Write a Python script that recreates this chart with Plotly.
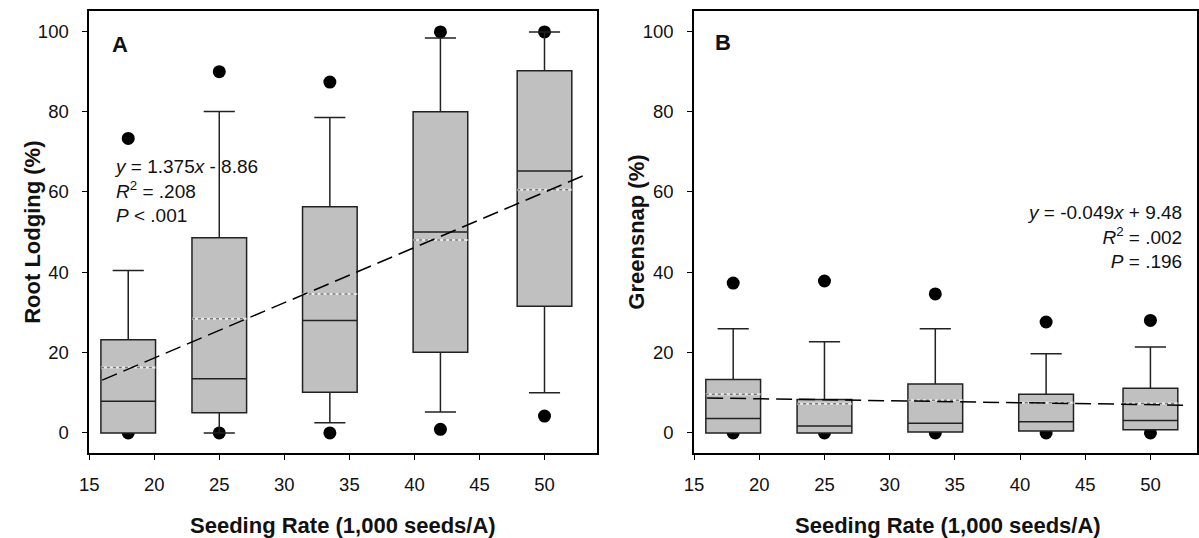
import plotly.graph_objects as go

# ---------------- data ----------------
positions = [18, 25, 33.5, 42, 50]
box_width = 4.2

# Panel A: Root lodging (%)
A_q1 = [0, 5.0, 10.1, 20.1, 31.5]
A_median = [7.9, 13.5, 28.0, 50.0, 65.2]
A_q3 = [23.2, 48.6, 56.3, 79.9, 90.1]
A_lower = [0, 0, 2.5, 5.2, 10.0]
A_upper = [40.4, 80.0, 78.5, 98.3, 99.8]
A_mean = [16.3, 28.4, 34.6, 48.0, 60.5]
A_out_high = [73.3, 89.9, 87.3, 99.8, 99.8]
A_out_low = [0, 0, 0, 0.9, 4.2]
A_slope, A_intercept = 1.375, -8.86
A_fit_x = [16, 53.1]

# Panel B: Greensnap (%)
B_q1 = [0, 0, 0.2, 0.5, 0.8]
B_median = [3.6, 1.7, 2.4, 2.8, 3.1]
B_q3 = [13.3, 8.3, 12.2, 9.6, 11.1]
B_lower = [0, 0, 0.2, 0.5, 0.8]
B_upper = [25.9, 22.7, 25.9, 19.7, 21.4]
B_mean = [9.6, 7.25, 8.1, 7.5, 7.3]
B_out_high = [37.3, 37.8, 34.6, 27.6, 28.0]
B_out_low = [0, 0, 0, 0, 0]
B_slope, B_intercept = -0.049, 9.48
B_fit_x = [16, 53.0]

x_ticks = [15, 20, 25, 30, 35, 40, 45, 50]
y_ticks = [0, 20, 40, 60, 80, 100]

FONT = "Liberation Sans, Arial, sans-serif"
W, H = 1199, 538

fig = go.Figure()


def add_panel(xb, yb, xo, yo, q1, med, q3, lo, hi, mean, out_hi, out_lo, slope, icpt, fit_x):
    # outlier dots on the base axes (drawn beneath the boxes)
    fig.add_trace(go.Scatter(
        x=positions + positions, y=out_hi + out_lo, mode="markers",
        marker=dict(color="black", size=13), xaxis=xb, yaxis=yb,
        showlegend=False, hoverinfo="skip"))
    # boxes on overlay axes
    fig.add_trace(go.Box(
        x=positions, q1=q1, median=med, q3=q3, lowerfence=lo, upperfence=hi,
        width=box_width, whiskerwidth=0.57, boxpoints=False,
        fillcolor="rgb(192,192,192)", line=dict(color="#222222", width=1.5),
        xaxis=xo, yaxis=yo, showlegend=False))
    # mean lines (dotted)
    mx, my = [], []
    for p, m in zip(positions, mean):
        mx += [p - box_width / 2, p + box_width / 2, None]
        my += [m, m, None]
    fig.add_trace(go.Scatter(
        x=mx, y=my, mode="lines", line=dict(color="rgb(235,235,235)", width=2),
        xaxis=xo, yaxis=yo, showlegend=False, hoverinfo="skip"))
    fig.add_trace(go.Scatter(
        x=mx, y=my, mode="lines", line=dict(color="#777777", width=1.5, dash="dot"),
        xaxis=xo, yaxis=yo, showlegend=False, hoverinfo="skip"))
    # regression line
    fig.add_trace(go.Scatter(
        x=fit_x, y=[slope * v + icpt for v in fit_x], mode="lines",
        line=dict(color="black", width=1.5, dash="16px,7px"),
        xaxis=xo, yaxis=yo, showlegend=False, hoverinfo="skip"))


add_panel("x", "y", "x3", "y3", A_q1, A_median, A_q3, A_lower, A_upper, A_mean,
          A_out_high, A_out_low, A_slope, A_intercept, A_fit_x)
add_panel("x2", "y2", "x4", "y4", B_q1, B_median, B_q3, B_lower, B_upper, B_mean,
          B_out_high, B_out_low, B_slope, B_intercept, B_fit_x)

ydom = [(H - 453) / H, (H - 11) / H]
xdomA = [80 / W, 593 / W]
xdomB = [691 / W, 1.0]
xrA = [15, 15 + 513 / 13.14]
xrB = [15, 15 + 508 / 13.17]
yr = [-5, 105]

common_x = dict(tickvals=x_ticks, ticks="outside", ticklen=5, tickwidth=1, tickcolor="black",
                showline=True, linecolor="black", linewidth=1.5, mirror=True,
                showgrid=False, zeroline=False, ticklabelstandoff=9,
                tickfont=dict(family=FONT, size=18.5, color="#111111"))
common_y = dict(tickvals=y_ticks, ticks="outside", ticklen=5, tickwidth=1, tickcolor="black",
                showline=True, linecolor="black", linewidth=1.5, mirror=True,
                showgrid=False, zeroline=False, ticklabelstandoff=10,
                tickfont=dict(family=FONT, size=18.5, color="#111111"))

fig.update_layout(
    width=W, height=H, autosize=False,
    margin=dict(l=0, r=0, t=0, b=0),
    paper_bgcolor="white", plot_bgcolor="white",
    showlegend=False,
    xaxis=dict(domain=xdomA, range=xrA, anchor="y", **common_x),
    yaxis=dict(domain=ydom, range=yr, anchor="x", **common_y),
    xaxis2=dict(domain=xdomB, range=xrB, anchor="y2", **common_x),
    yaxis2=dict(domain=ydom, range=yr, anchor="x2", **common_y),
    xaxis3=dict(overlaying="x", range=xrA, anchor="y3", visible=False),
    yaxis3=dict(overlaying="y", range=yr, anchor="x3", visible=False),
    xaxis4=dict(overlaying="x2", range=xrB, anchor="y4", visible=False),
    yaxis4=dict(overlaying="y2", range=yr, anchor="x4", visible=False),
)

ann = []
title_font = dict(family=FONT, size=22, color="#111111")
# x-axis titles
for cx in [(80 + 593) / 2, (691 + 1204) / 2]:
    ann.append(dict(text="<b>Seeding Rate (1,000 seeds/A)</b>", xref="paper", yref="paper",
                    x=cx / W, y=1 - 525 / H, xanchor="center", yanchor="middle",
                    showarrow=False, font=title_font))
# y-axis titles
for cx, t in [(22, "Root Lodging (%)"), (632, "Greensnap (%)")]:
    ann.append(dict(text="<b>" + t + "</b>", xref="paper", yref="paper",
                    x=cx / W, y=1 - 232 / H, xanchor="center", yanchor="middle",
                    textangle=-90, showarrow=False, font=title_font))
# panel letters
for cx, cy, t in [(111, 45, "A"), (720, 43, "B")]:
    ann.append(dict(text="<b>" + t + "</b>", xref="paper", yref="paper",
                    x=cx / W, y=1 - cy / H, xanchor="center", yanchor="middle",
                    showarrow=False, font=dict(family=FONT, size=22, color="#111111")))
# regression stats
ann.append(dict(text="<i>y</i> = 1.375<i>x</i> - 8.86<br><i>R</i><sup>2</sup> = .208<br><i>P</i> &lt; .001",
                xref="paper", yref="paper", x=103 / W, y=1 - 154 / H,
                xanchor="left", yanchor="top", align="left", showarrow=False,
                font=dict(family=FONT, size=19, color="#111111")))
ann.append(dict(text="<i>y</i> = -0.049<i>x</i> + 9.48<br><i>R</i><sup>2</sup> = .002<br><i>P</i> = .196",
                xref="paper", yref="paper", x=1186 / W, y=1 - 200 / H,
                xanchor="right", yanchor="top", align="right", showarrow=False,
                font=dict(family=FONT, size=19, color="#111111")))
fig.update_layout(annotations=ann)

fig.write_html("out.html",
               config={"displayModeBar": False},
               post_script="document.body.style.margin='0';document.body.style.overflow='hidden';")
